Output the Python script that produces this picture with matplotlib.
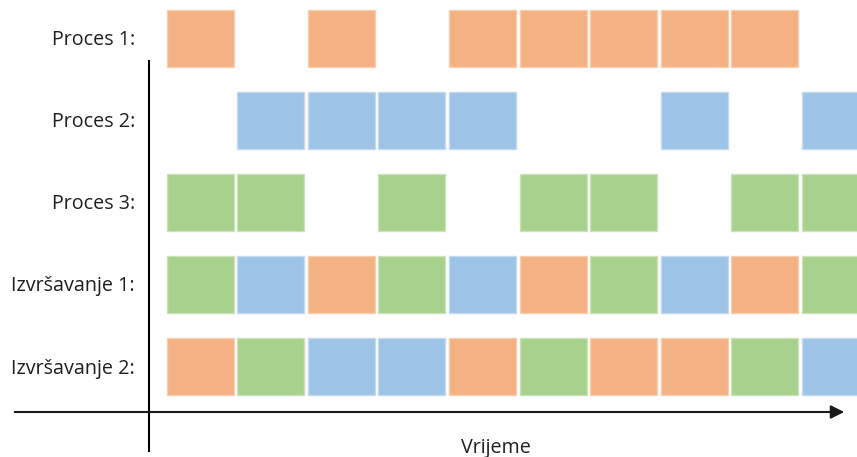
import matplotlib
matplotlib.use("Agg")
import matplotlib.pyplot as plt
from matplotlib.patches import FancyArrowPatch

# ---- data ----
row_labels = ["Proces 1:", "Proces 2:", "Proces 3:", "Izvršavanje 1:", "Izvršavanje 2:"]
x_label = "Vrijeme"
n_slots = 10
# process rows: time slots in which each process is active
proces1_slots = [0, 2, 4, 5, 6, 7, 8]
proces2_slots = [1, 2, 3, 4, 7, 9]
proces3_slots = [0, 1, 3, 5, 6, 8, 9]
# execution rows: which process runs in each slot (1, 2, 3)
izvrsavanje1 = [3, 2, 1, 3, 2, 1, 3, 2, 1, 3]
izvrsavanje2 = [1, 3, 2, 2, 1, 3, 1, 1, 3, 2]

colors = {1: "#F4B183", 2: "#9DC3E6", 3: "#A9D18E"}
edges = {1: "#F8CDB0", 2: "#C4DAEF", 3: "#C9E2B8"}

W, H = 857, 457
fig = plt.figure(figsize=(W / 100, H / 100), dpi=100)
ax = fig.add_axes([0, 0, 1, 1])

# pixel <-> data mapping (slot pitch & row pitch)
x0_px, pitch_x = 166.5, 70.6
y0_px, pitch_y = 38.2, 82.19
def px_x(p):
    return (p - x0_px) / pitch_x
def px_y(p):
    return (p - y0_px) / pitch_y

ax.set_xlim(px_x(0), px_x(W))
ax.set_ylim(px_y(H), px_y(0))
ax.axis("off")

bw = 67 / pitch_x
bh = 57 / pitch_y

def draw(row, slots, procs):
    for s, p in zip(slots, procs):
        ax.bar(s, bh, width=bw, bottom=row - bh / 2, align="edge",
               color=colors[p], edgecolor=edges[p], linewidth=1.0, zorder=2)

draw(0, proces1_slots, [1] * len(proces1_slots))
draw(1, proces2_slots, [2] * len(proces2_slots))
draw(2, proces3_slots, [3] * len(proces3_slots))
draw(3, list(range(n_slots)), izvrsavanje1)
draw(4, list(range(n_slots)), izvrsavanje2)

txt_color = "#1f1f1f"
for r, lab in enumerate(row_labels):
    ax.text(px_x(135), r + 0.02, lab, ha="right", va="center", fontsize=14.2,
            family="Open Sans", color=txt_color)

# axes lines
ax.plot([px_x(149), px_x(149)], [px_y(60), px_y(452)], color="black", lw=1.5,
        solid_capstyle="butt", zorder=3)
arr = FancyArrowPatch((px_x(12), px_y(412)), (px_x(847), px_y(412)),
                      arrowstyle="-|>,head_length=5,head_width=2.5",
                      mutation_scale=1.6, color="#1a1a1a", lw=1.5, zorder=3)
ax.add_patch(arr)

fig.text(461 / W, 1 - 453 / H, x_label, ha="left", va="baseline", fontsize=14.2,
         family="Open Sans", color=txt_color)

fig.savefig("out.png", dpi=100)
